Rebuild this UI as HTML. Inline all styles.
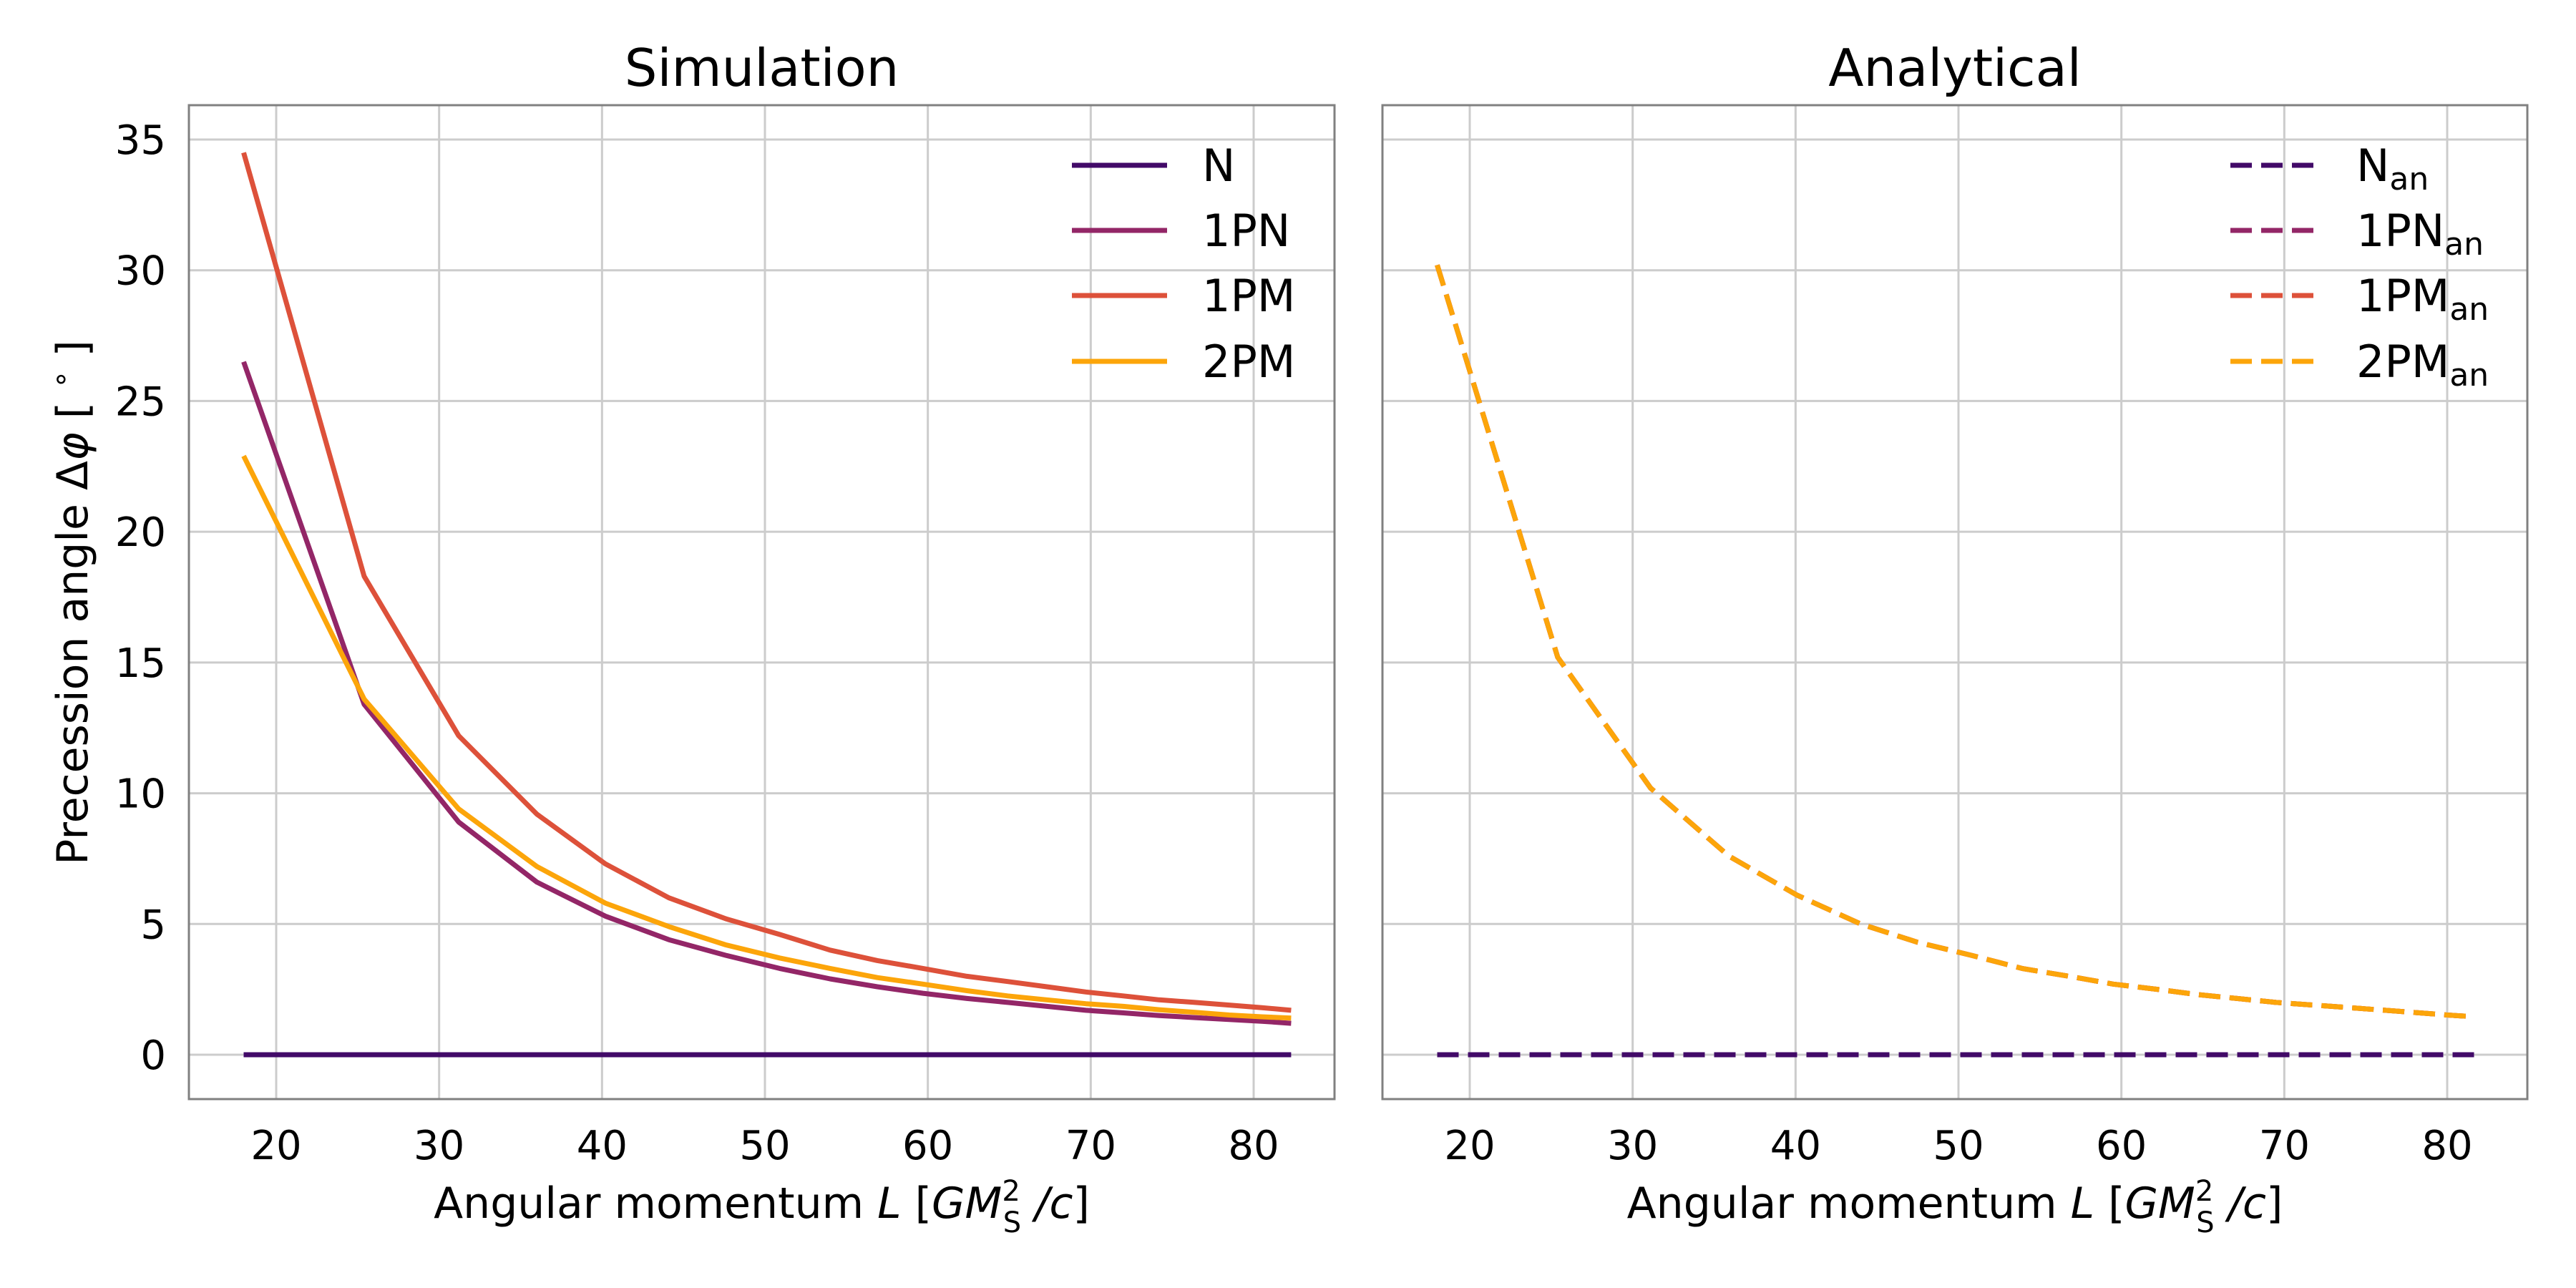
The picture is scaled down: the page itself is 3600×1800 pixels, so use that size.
<!DOCTYPE html>
<html><head><meta charset="utf-8"><style>
html,body{margin:0;padding:0;background:#fff;}
svg{display:block;font-family:"DejaVu Sans","Liberation Sans",sans-serif;}
</style></head><body>
<svg id="chart" width="3600" height="1800" viewBox="0 0 3600 1800" xmlns="http://www.w3.org/2000/svg"></svg>
<script>
const Lsim = [18.0,25.4,31.2,36.0,40.2,44.1,47.6,50.9,54.0,56.9,59.7,62.4,64.9,67.3,69.7,72.0,74.2,76.4,78.5,80.5,82.3];
const simN   = [0,0,0,0,0,0,0,0,0,0,0,0,0,0,0,0,0,0,0,0,0];
const sim1PN = [26.5,13.4,8.9,6.6,5.3,4.4,3.8,3.3,2.9,2.6,2.35,2.15,2.0,1.85,1.7,1.6,1.5,1.42,1.35,1.28,1.2];
const sim1PM = [34.5,18.3,12.2,9.2,7.3,6.0,5.2,4.6,4.0,3.6,3.3,3.0,2.8,2.6,2.4,2.25,2.1,2.0,1.9,1.8,1.7];
const sim2PM = [22.9,13.6,9.4,7.2,5.8,4.9,4.2,3.7,3.3,2.95,2.7,2.45,2.25,2.1,1.95,1.85,1.72,1.62,1.52,1.45,1.4];
const Lan = [18.0,25.4,31.1,35.9,40.1,44.0,47.5,50.8,53.9,56.8,59.5,62.2,64.7,67.1,69.5,71.8,74.0,76.2,78.3,80.0,81.7];
const anN   = [0,0,0,0,0,0,0,0,0,0,0,0,0,0,0,0,0,0,0,0,0];
const an1PN = [30.2,15.2,10.2,7.6,6.1,5.0,4.3,3.8,3.3,3.0,2.7,2.5,2.3,2.15,2.0,1.9,1.8,1.7,1.6,1.52,1.45];
const an1PM = [30.2,15.2,10.2,7.6,6.1,5.0,4.3,3.8,3.3,3.0,2.7,2.5,2.3,2.15,2.0,1.9,1.8,1.7,1.6,1.52,1.45];
const an2PM = [30.2,15.2,10.2,7.6,6.1,5.0,4.3,3.8,3.3,3.0,2.7,2.5,2.3,2.15,2.0,1.9,1.8,1.7,1.6,1.52,1.45];
const xTicks = [20,30,40,50,60,70,80];
const yTicks = [0,5,10,15,20,25,30,35];
const simNames = ["N","1PN","1PM","2PM"];
const colors = ["#420a68","#932667","#dd513a","#fca50a"];

const svg = document.getElementById('chart');
const NS = "http://www.w3.org/2000/svg";
function mk(tag, attrs, parent){const e=document.createElementNS(NS,tag);for(const k in attrs)e.setAttribute(k,attrs[k]);(parent||svg).appendChild(e);return e;}

const panels = [
 {x0:264,x1:1865,title:"Simulation",L:Lsim,series:[simN,sim1PN,sim1PM,sim2PM],dash:false,ylab:true},
 {x0:1932,x1:3532,title:"Analytical",L:Lan,series:[anN,an1PN,an1PM,an2PM],dash:true,ylab:false}
];
const yTop=147,yBot=1536;
function ys(v){return 1474 + (195-1474)*(v/35);}
const DASH='30 13';

panels.forEach((p,pi)=>{
  const off=p.x0-264;
  const xs=v=>386 + (1752-386)*(v-20)/60 + off;
  const g=mk('g',{});
  
  
  xTicks.forEach(t=>{
    const l=mk('line',{x1:xs(t),x2:xs(t),y1:yTop,y2:yBot,stroke:'#cccccc','stroke-width':3},g);
    
    
    const tx=mk('text',{x:xs(t),y:1620,'font-size':56,'text-anchor':'middle',fill:'#000'},g);
    tx.textContent=t;
    
    
  });
  yTicks.forEach(t=>{
    const l=mk('line',{x1:p.x0,x2:p.x1,y1:ys(t),y2:ys(t),stroke:'#cccccc','stroke-width':3},g);
    
    
    if(p.ylab){
      const tx=mk('text',{x:232,y:ys(t)+20,'font-size':56,'text-anchor':'end',fill:'#000'},g);
      tx.textContent=t;
      
      
    }
  });
  p.series.forEach((s,i)=>{
    const d=s.map((v,j)=>(j?'L':'M')+xs(p.L[j]).toFixed(1)+' '+ys(v).toFixed(1)).join(' ');
    const path=mk('path',{d:d,fill:'none',stroke:colors[i],'stroke-width':7,'stroke-linejoin':'round'},g);
    if(p.dash) path.setAttribute('stroke-dasharray',DASH);
    
    
  });
  const fr=mk('rect',{x:p.x0,y:yTop,width:p.x1-p.x0,height:yBot-yTop,fill:'none',stroke:'#808080','stroke-width':3},g);
  
  
  const ti=mk('text',{x:(p.x0+p.x1)/2,y:120,'font-size':72,'text-anchor':'middle',fill:'#000'},g);
  ti.textContent=p.title;
  
  
  const xl=mk('text',{x:(p.x0+p.x1)/2,y:1702,'font-size':60,'text-anchor':'middle',fill:'#000'},g);
  xl.innerHTML='Angular momentum <tspan font-style="italic">L</tspan> [<tspan font-style="italic">GM</tspan><tspan font-size="40" dy="-24">2</tspan><tspan font-size="40" dx="-24" dy="44">S</tspan><tspan dy="-20" font-style="italic"> /c</tspan>]';
  
  
  const lg=mk('g',{},g);
  
  
  const lx0 = pi===0?1498:3117, lx1 = pi===0?1631:3245, tx0 = pi===0?1680:3293;
  const rows=[231,322,413,505];
  simNames.forEach((n,i)=>{
    const e=mk('g',{},lg);
    
    
    const ln=mk('line',{x1:lx0,x2:lx1,y1:rows[i],y2:rows[i],stroke:colors[i],'stroke-width':7},e);
    if(p.dash) ln.setAttribute('stroke-dasharray',DASH);
    const t=mk('text',{x:tx0,y:rows[i]+22,'font-size':62,fill:'#000'},e);
    t.innerHTML = p.dash ? n+'<tspan font-size="44" dy="12">an</tspan>' : n;
  });
});
const yl=mk('text',{x:0,y:0,'font-size':60,'text-anchor':'middle',fill:'#000',transform:'translate(122 842) rotate(-90)'});
yl.innerHTML='Precession angle Δ<tspan font-style="italic">φ</tspan> [ <tspan font-size="40" dy="-24">∘</tspan><tspan dy="24"> ]</tspan>';


</script>
</body></html>
